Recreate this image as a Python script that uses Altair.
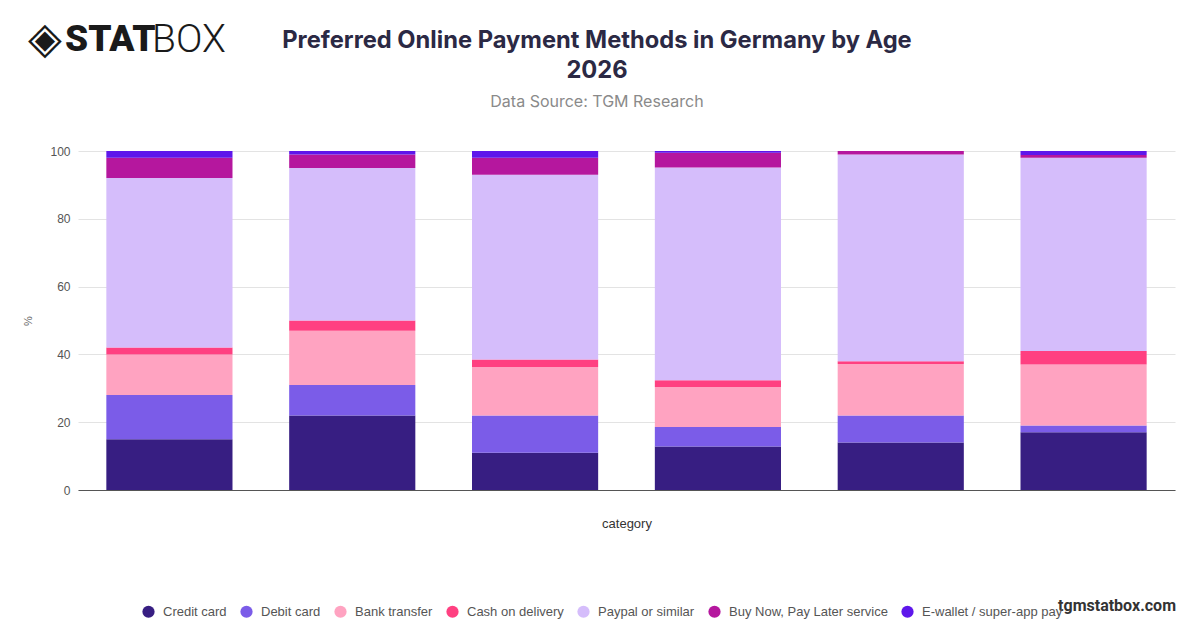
import altair as alt
import pandas as pd

categories = ["18-24", "25-34", "35-44", "45-54", "55-64", "65+"]
methods = ["Credit card", "Debit card", "Bank transfer", "Cash on delivery",
           "Paypal or similar", "Buy Now, Pay Later service", "E-wallet / super-app pay"]
colors = ["#371E82", "#7B5CE8", "#FFA3C1", "#FF4081", "#D5BDFB", "#B5179E", "#5E17EB"]

credit = [15, 22, 11, 12.8, 14, 17]
debit = [13, 9, 11, 5.8, 8, 2]
bank = [12, 16, 14.3, 11.8, 15.2, 18]
cash = [2, 3, 2.2, 2, 0.8, 4]
paypal = [50, 45, 54.5, 62.7, 61, 57]
bnpl = [6, 4, 5, 4.4, 1, 0.8]
ewallet = [2, 1, 2, 0.5, 0, 1.2]

title_lines = ["Preferred Online Payment Methods in Germany by Age", "2026"]
subtitle = "Data Source: TGM Research"

series = [credit, debit, bank, cash, paypal, bnpl, ewallet]
rows = []
for mi, (m, vals) in enumerate(zip(methods, series)):
    for c, v in zip(categories, vals):
        rows.append({"category": c, "method": m, "value": v, "idx": mi})
df = pd.DataFrame(rows)

bars = alt.Chart(df).mark_bar().encode(
    x=alt.X("category:N", sort=categories, title="category",
            scale=alt.Scale(paddingInner=0.31, paddingOuter=0.155),
            axis=alt.Axis(labels=False, ticks=False, domainColor="#555555",
                          titleFontSize=13, titleFontWeight="normal",
                          titleColor="#333333", titlePadding=27,
                          titleFont="Liberation Sans")),
    y=alt.Y("value:Q", title="%", stack="zero",
            scale=alt.Scale(domain=[0, 100]),
            axis=alt.Axis(values=[0, 20, 40, 60, 80, 100], ticks=False, domain=False,
                          gridColor="#e3e3e3", labelFontSize=12, labelColor="#555555",
                          labelPadding=8, labelFont="Liberation Sans",
                          titleFontSize=11, titleFontWeight="normal",
                          titleColor="#666666", titlePadding=16,
                          titleFont="Liberation Sans")),
    color=alt.Color("method:N", sort=methods,
                    scale=alt.Scale(domain=methods, range=colors),
                    legend=alt.Legend(orient="none", legendX=64, legendY=454,
                                      direction="horizontal", title=None,
                                      symbolType="circle", symbolSize=150,
                                      symbolStrokeWidth=0, symbolOpacity=1,
                                      labelFontSize=13, labelColor="#555555",
                                      labelFont="Liberation Sans",
                                      columnPadding=13, symbolOffset=0,
                                      labelOffset=8)),
    order=alt.Order("idx:Q", sort="ascending"),
)

one = pd.DataFrame({"t": [0]})

def txt(text, x, y, **kw):
    return alt.Chart(one).mark_text(text=text, baseline="middle", **kw).encode(
        x=alt.value(x), y=alt.value(y))

logo0 = txt("◈", -50, -111, font="DejaVu Sans", fontSize=44, align="left", color="#1a1a1a")
logo1 = txt("STAT", -13, -111, font="Roboto", fontWeight=900, fontSize=37,
            align="left", color="#1a1a1a")
logo2 = txt("BOX", 74, -111, font="Roboto", fontWeight=300, fontSize=39,
            align="left", color="#1a1a1a")
site = txt("tgmstatbox.com", 1098, 455, font="Roboto", fontWeight="bold",
           fontSize=16, align="right", color="#333333")
t1 = txt(title_lines[0], 519, -110, font="Inter", fontWeight="bold", fontSize=23.7,
         align="center", color="#2b2944")
t2 = txt(title_lines[1], 519, -80, font="Inter", fontWeight="bold", fontSize=23.7,
         align="center", color="#2b2944")
st = txt(subtitle, 519, -49, font="Inter", fontSize=16, align="center", color="#8a8a8a")

chart = alt.layer(bars, logo0, logo1, logo2, site, t1, t2, st).properties(
    width=1097, height=339,
    autosize=alt.AutoSizeParams(type="none"),
    padding={"left": 70, "top": 143, "right": 17, "bottom": 130},
).configure_view(stroke=None)

chart.save("out.html", embed_options={"renderer": "svg", "actions": False})
